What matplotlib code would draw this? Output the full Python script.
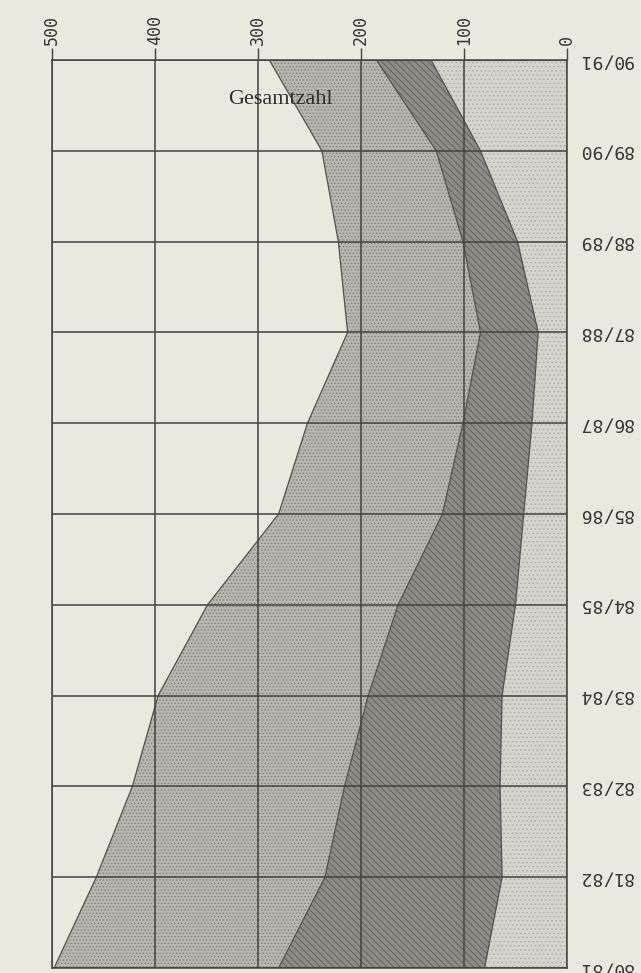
import matplotlib
matplotlib.use("Agg")
import matplotlib.pyplot as plt
import numpy as np

# School years (bottom to top) and the three stacked components
years = ["80/81", "81/82", "82/83", "83/84", "84/85", "85/86",
         "86/87", "87/88", "88/89", "89/90", "90/91"]
inner = [80, 63, 65, 63, 50, 42, 34, 28, 48, 84, 132]
middle = [200, 172, 151, 130, 114, 79, 67, 56, 53, 43, 53]
outer = [218, 222, 206, 204, 185, 159, 151, 129, 121, 111, 104]
value_ticks = [0, 100, 200, 300, 400, 500]
title = "Gesamtzahl"

paper = "#ebe8df"
ink = "#42423f"
plt.rcParams["hatch.linewidth"] = 0.6

fig = plt.figure(figsize=(6.41, 9.73), dpi=100, facecolor=paper)
ax = fig.add_axes([52 / 641, 5 / 973, (567 - 52) / 641, (968 - 60) / 973])
ax.set_facecolor(paper)

pos = np.arange(len(years))
c1 = np.array(inner, dtype=float)
c2 = c1 + np.array(middle, dtype=float)
c3 = c2 + np.array(outer, dtype=float)

# stacked layers, drawn horizontally from the zero line at the right
ax.fill_betweenx(pos, 0, c1, facecolor="#d5d3cc", edgecolor="#adaca6",
                 hatch="....", linewidth=0, zorder=1)
ax.fill_betweenx(pos, c1, c2, facecolor="#8c8b86", edgecolor="#5f5e5a",
                 hatch="\\\\\\\\\\", linewidth=0, zorder=1)
ax.fill_betweenx(pos, c2, c3, facecolor="#b7b6b0", edgecolor="#82817d",
                 hatch=".....", linewidth=0, zorder=1)
for c in (c1, c2, c3):
    ax.plot(c, pos, color="#52514d", lw=0.9, zorder=2)

ax.set_xlim(500, 0)
ax.set_ylim(0, len(years) - 1)

ax.xaxis.tick_top()
ax.set_xticks(value_ticks)
ax.set_xticklabels([str(v) for v in value_ticks], rotation=90,
                   fontfamily="DejaVu Sans Mono", fontsize=12, color="#363634")
ax.tick_params(axis="x", length=9, width=1, color=ink, pad=2)

ax.yaxis.tick_right()
ax.set_yticks(pos)
ax.set_yticklabels(years, rotation=180, fontfamily="DejaVu Sans Mono",
                   fontsize=13, color="#363634", va="center")
ax.tick_params(axis="y", length=0, pad=8)

ax.grid(True, color=ink, lw=1.1, zorder=3)
ax.set_axisbelow(False)
for s in ax.spines.values():
    s.set_color(ink)
    s.set_linewidth(1.1)
    s.set_zorder(4)

fig.text(280 / 641, 1 - 100 / 973, title, ha="center", va="center",
         fontfamily="Liberation Serif", fontsize=16, color="#2e2e2c")

fig.savefig("out.png", dpi=100, facecolor=paper)
